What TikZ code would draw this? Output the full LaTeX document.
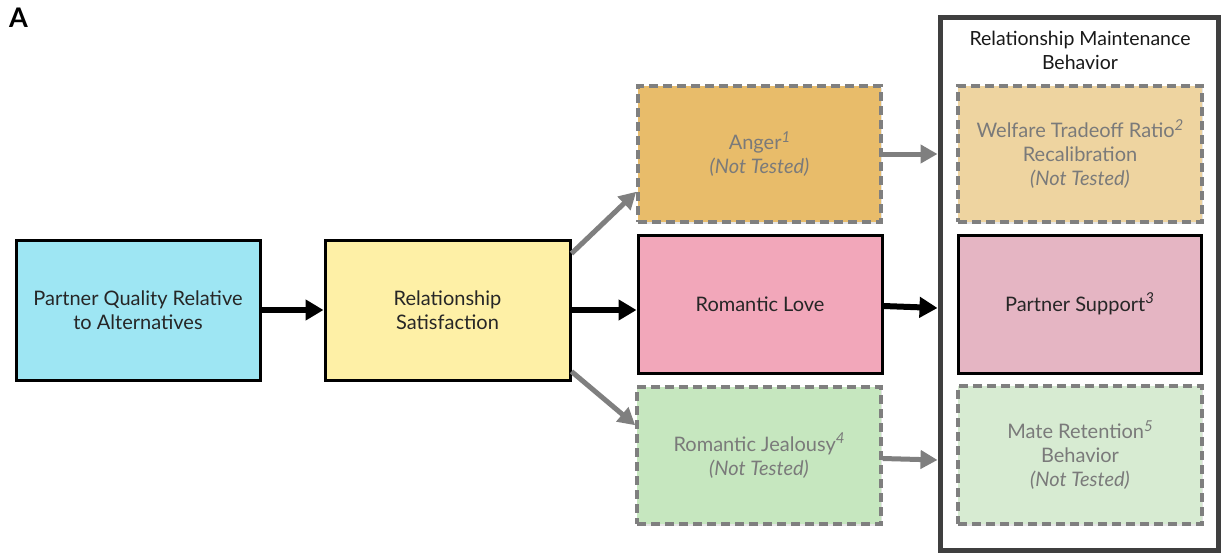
\documentclass[tikz,border=0pt]{standalone}
\usepackage{fontspec}
\setmainfont{Lato}
\usetikzlibrary{arrows.meta,shadows,calc}
\definecolor{cblue}{HTML}{9EE6F3}
\definecolor{cyellow}{HTML}{FEF0A6}
\definecolor{canger}{HTML}{E8BC6A}
\definecolor{clove}{HTML}{F2A7BA}
\definecolor{cjeal}{HTML}{C6E7BF}
\definecolor{cwelf}{HTML}{EED4A0}
\definecolor{csupp}{HTML}{E5B5C3}
\definecolor{cmate}{HTML}{D7EBD2}
\definecolor{cgrayline}{HTML}{7F7F7F}
\definecolor{cgraytext}{HTML}{7A7A7A}
\definecolor{cdark}{HTML}{3F3F3F}
\newcommand{\supnum}[1]{\raisebox{0.75ex}{\fontsize{15}{15}\selectfont\itshape #1}}
\begin{document}
\begin{tikzpicture}[x=1pt,y=-1pt,
  font=\fontsize{20}{24}\selectfont,
  solidbox/.style={draw=black, line width=3pt, align=center, text=black!85,
    drop shadow={opacity=0.25, shadow xshift=1pt, shadow yshift=-2pt}},
  dashbox/.style={draw=cgrayline, line width=3.5pt, dash pattern=on 9pt off 5pt,
    align=center, text=cgraytext,
    drop shadow={opacity=0.2, shadow xshift=1pt, shadow yshift=-2pt}},
  blackarrow/.style={line width=6pt, black, -{Triangle[length=18pt,width=20pt]}},
  grayarrow/.style={line width=5pt, cgrayline, -{Triangle[length=17pt,width=18pt]}},
  sz/.style args={#1x#2}{minimum width=#1pt, minimum height=#2pt, inner sep=0pt}
]
\useasboundingbox (0,0) rectangle (1228,554);
\fill[white] (0,0) rectangle (1228,554);

\node[font=\fontsize{27}{27}\selectfont\bfseries, anchor=north west, inner sep=0pt] (lbl) at (9,8) {A};

\node[draw=cdark, line width=5pt, sz=278x533] (rmb) at (1079,283.5) {};
\node[align=center, text=black!90, font=\fontsize{19.5}{24}\selectfont] (rmbtitle) at (1080,50) {Relationship Maintenance\\Behavior};

\node[solidbox, fill=cblue, sz=244x140] (pq) at (138,310) {Partner Quality Relative\\to Alternatives};
\node[solidbox, fill=cyellow, sz=245x140] (rs) at (447.5,310) {Relationship\\Satisfaction};
\node[dashbox, fill=canger, sz=243x136] (ang) at (759.5,154) {Anger\supnum{1}\\\itshape (Not Tested)};
\node[solidbox, fill=clove, sz=244x138] (rl) at (760,304) {Romantic Love};
\node[dashbox, fill=cjeal, sz=244x137] (jea) at (759,455.5) {Romantic Jealousy\supnum{4}\\\itshape (Not Tested)};

\node[dashbox, fill=cwelf, sz=244x136] (wtr) at (1080,154) {Welfare Tradeoff Ratio\supnum{2}\\Recalibration\\\itshape (Not Tested)};
\node[solidbox, fill=csupp, sz=243x138] (ps) at (1079.5,304) {Partner Support\supnum{3}};
\node[dashbox, fill=cmate, sz=244x138] (mr) at (1080,455) {Mate Retention\supnum{5}\\Behavior\\\itshape (Not Tested)};

\draw[blackarrow] (pq.east) -- (rs.west);
\draw[blackarrow] (rs.east) -- (rl.west |- rs.east);
\draw[blackarrow] (rl.east |- 0,306) -- (rmb.west |- 0,308);
\draw[grayarrow] ($(rs.north east)+(0,15)$) -- ($(ang.south west)+(0,-32)$);
\draw[grayarrow] ($(rs.south east)+(0,-10)$) -- ($(jea.north west)+(0,40)$);
\draw[grayarrow] (ang.east) -- (rmb.west |- ang.east);
\draw[grayarrow] ($(jea.east)+(0,3)$) -- (rmb.west |- 0,460);
\end{tikzpicture}
\end{document}
